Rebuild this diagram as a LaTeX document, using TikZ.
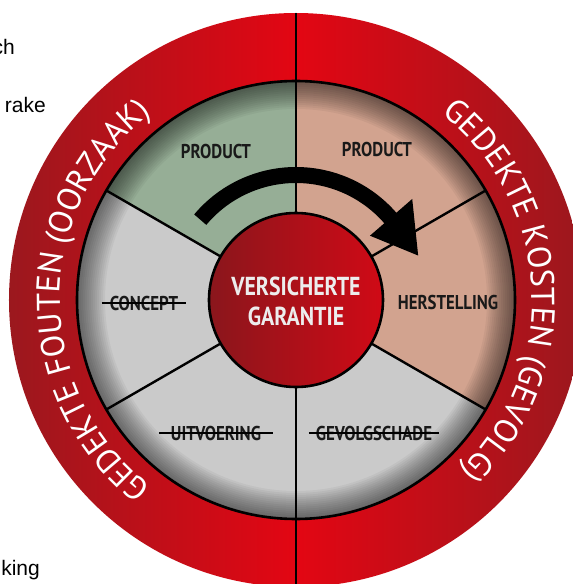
\documentclass[tikz,border=0pt]{standalone}
\usepackage{fontspec}
\setmainfont{Liberation Sans}
\newfontfamily\ringfont{PT Sans}
\newfontfamily\segfont[FakeStretch=0.84]{PT Sans}
\usepackage{tikz}
\usetikzlibrary{decorations.text}
\definecolor{ringred}{RGB}{227,6,19}
\definecolor{ringdark}{RGB}{155,24,30}
\definecolor{coredark}{RGB}{138,22,28}
\definecolor{corered}{RGB}{208,10,22}
\definecolor{segGreen}{RGB}{150,174,150}
\definecolor{segSalmon}{RGB}{210,163,143}
\definecolor{segGrey}{RGB}{202,202,202}

\begin{document}
\begin{tikzpicture}[x=1pt, y=1pt,
        seglabel/.style={font=\segfont\bfseries\fontsize{20}{22}\selectfont, inner sep=0pt, text=black!90},
        corelabel/.style={font=\segfont\bfseries\fontsize{26}{30}\selectfont, align=center, text=white!93!black, inner sep=0pt},
        stray/.style={font=\fontsize{21}{24}\selectfont, inner sep=0pt, anchor=base east},
        strike/.style={line width=1.3pt},
        divider/.style={line width=2.4pt},
        ringtext/.style={decorate, decoration={text along path, text align=center, text color=white,
            text={|\ringfont\fontsize{33}{33}\selectfont|#1}}}
    ]
        \useasboundingbox (-296,-284) rectangle (277,300);

        % Cut-off words of the page behind
        \node[stray] (ch) at (-281,245) {ch};
        \node[stray] (rake) at (-250,187) {rake};
        \node[stray] (king) at (-256,-275) {king};

        % Outer red ring
        \shade[left color=ringdark, right color=ringred] (0,287) arc (90:270:287) -- cycle;
        \shade[left color=ringred, right color=ringdark] (0,287) arc (90:-90:287) -- cycle;

        % Sectors
        \foreach \a/\col in {90/segGreen, 150/segGrey, 210/segGrey, 270/segGrey, 330/segSalmon, 30/segSalmon}
            \fill[\col] (0,0) -- (\a:219) arc (\a:\a+60:219) -- cycle;
        \foreach \k in {1,...,14}
            \fill[black, opacity=0.045, even odd rule] (0,0) circle (219) circle (219-2*\k);

        % Dividers
        \foreach \a in {30,150,210,330}
            \draw[divider] (0,0) -- (\a:219);
        \draw[divider] (0,287) -- (0,-287);
        \draw[line width=2.6pt] (0,0) circle (219);

        % Arrow
        \draw[line width=16pt] (140:125) arc (140:40:125);
        \fill (41:98) -- (20:130) -- (41:154) -- cycle;

        % Core
        \shade[left color=coredark, right color=corered] (0,0) circle (87);
        \draw[line width=2.6pt] (0,0) circle (87);
        \node[corelabel] (core) at (0,-1) {VERSICHERTE\\GARANTIE};

        % Sector labels
        \node[seglabel] (prodL) at (-80,148) {PRODUCT};
        \node[seglabel] (prodR) at (81,150) {PRODUCT};
        \node[seglabel] (concept) at (-152,-3) {CONCEPT};
        \node[seglabel] (herst) at (152,-2) {HERSTELLING};
        \node[seglabel] (uitv) at (-80,-133) {UITVOERING};
        \node[seglabel] (gevolg) at (78,-133) {GEVOLGSCHADE};
        \draw[strike] ([xshift=-8pt]concept.west) -- ([xshift=8pt]concept.east);
        \draw[strike] ([xshift=-12pt]uitv.west) -- ([xshift=12pt]uitv.east);
        \draw[strike] ([xshift=-7pt]gevolg.west) -- ([xshift=7pt]gevolg.east);

        % Ring texts
        \path[ringtext={GEDEKTE FOUTEN (OORZAAK)}] (236:236) arc (236:124:236);
        \path[ringtext={GEDEKTE KOSTEN (GEVOLG)}] (59:236) arc (59:-53:236);
    \end{tikzpicture}
\end{document}
